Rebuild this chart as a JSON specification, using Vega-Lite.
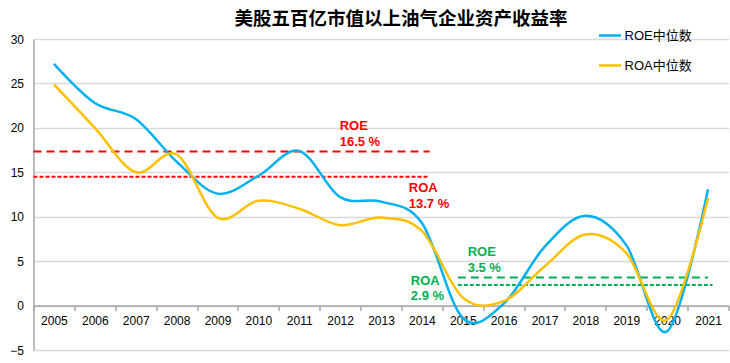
{
  "$schema": "https://vega.github.io/schema/vega-lite/v6.json",
  "width": 695,
  "height": 311,
  "autosize": "none",
  "padding": {"left": 33.5, "top": 39, "right": 1.5, "bottom": 13},
  "background": "white",
  "config": {"view": {"stroke": null}, "font": "Liberation Sans"},
  "title": {
    "text": "美股五百亿市值以上油气企业资产收益率",
    "font": "Noto Sans CJK SC",
    "fontSize": 18.5,
    "fontWeight": "bold",
    "color": "#000000",
    "anchor": "middle",
    "frame": "group",
    "dx": 20,
    "offset": -5
  },
  "resolve": {"scale": {"x": "independent"}, "axis": {"x": "independent"}},
  "datasets": {
    "series": [
      {"year": 2005, "series": "ROE中位数", "value": 27.2},
      {"year": 2006, "series": "ROE中位数", "value": 22.8},
      {"year": 2007, "series": "ROE中位数", "value": 21.0},
      {"year": 2008, "series": "ROE中位数", "value": 16.2},
      {"year": 2009, "series": "ROE中位数", "value": 12.6},
      {"year": 2010, "series": "ROE中位数", "value": 14.6},
      {"year": 2011, "series": "ROE中位数", "value": 17.4},
      {"year": 2012, "series": "ROE中位数", "value": 12.2},
      {"year": 2013, "series": "ROE中位数", "value": 11.7},
      {"year": 2014, "series": "ROE中位数", "value": 9.3},
      {"year": 2015, "series": "ROE中位数", "value": -1.4},
      {"year": 2016, "series": "ROE中位数", "value": 0.2},
      {"year": 2017, "series": "ROE中位数", "value": 6.6},
      {"year": 2018, "series": "ROE中位数", "value": 10.1},
      {"year": 2019, "series": "ROE中位数", "value": 6.8},
      {"year": 2020, "series": "ROE中位数", "value": -2.9},
      {"year": 2021, "series": "ROE中位数", "value": 13.1},
      {"year": 2005, "series": "ROA中位数", "value": 24.9},
      {"year": 2006, "series": "ROA中位数", "value": 20.0},
      {"year": 2007, "series": "ROA中位数", "value": 15.0},
      {"year": 2008, "series": "ROA中位数", "value": 17.0},
      {"year": 2009, "series": "ROA中位数", "value": 9.9},
      {"year": 2010, "series": "ROA中位数", "value": 11.8},
      {"year": 2011, "series": "ROA中位数", "value": 10.9},
      {"year": 2012, "series": "ROA中位数", "value": 9.05},
      {"year": 2013, "series": "ROA中位数", "value": 9.9},
      {"year": 2014, "series": "ROA中位数", "value": 8.4},
      {"year": 2015, "series": "ROA中位数", "value": 0.9},
      {"year": 2016, "series": "ROA中位数", "value": 0.5},
      {"year": 2017, "series": "ROA中位数", "value": 4.4},
      {"year": 2018, "series": "ROA中位数", "value": 8.0},
      {"year": 2019, "series": "ROA中位数", "value": 5.9},
      {"year": 2020, "series": "ROA中位数", "value": -1.6},
      {"year": 2021, "series": "ROA中位数", "value": 12.1}
    ],
    "refs": [
      {"period": "2005-2014", "metric": "ROE", "value": 17.35, "start": 2004.5, "end": 2014.19},
      {"period": "2005-2014", "metric": "ROA", "value": 14.5, "start": 2004.5, "end": 2014.17},
      {"period": "2015-2021", "metric": "ROE", "value": 3.15, "start": 2014.88, "end": 2021.0},
      {"period": "2015-2021", "metric": "ROA", "value": 2.32, "start": 2014.88, "end": 2021.11}
    ],
    "labels": [
      {"period": "2005-2014", "text": "ROE", "x": 2011.99, "y": 20.2},
      {"period": "2005-2014", "text": "16.5 %", "x": 2011.99, "y": 18.4},
      {"period": "2005-2014", "text": "ROA", "x": 2013.68, "y": 13.23},
      {"period": "2005-2014", "text": "13.7 %", "x": 2013.68, "y": 11.43},
      {"period": "2015-2021", "text": "ROE", "x": 2015.12, "y": 6.03},
      {"period": "2015-2021", "text": "3.5 %", "x": 2015.12, "y": 4.23},
      {"period": "2015-2021", "text": "ROA", "x": 2013.73, "y": 2.77},
      {"period": "2015-2021", "text": "2.9 %", "x": 2013.73, "y": 1.08}
    ]
  },
  "layer": [
    {
      "data": {"name": "refs"},
      "transform": [{"filter": "datum.period === '2005-2014'"}],
      "mark": {"type": "rule", "color": "#ff0000", "strokeWidth": 2},
      "encoding": {
        "x": {"field": "start", "type": "quantitative", "scale": {"domain": [2004.5, 2021.5], "nice": false, "zero": false}, "axis": null},
        "x2": {"field": "end"},
        "y": {"field": "value", "type": "quantitative"},
        "strokeDash": {"field": "metric", "type": "nominal", "scale": {"domain": ["ROE", "ROA"], "range": [[8, 5], [4, 2]]}, "legend": null}
      }
    },
    {
      "data": {"name": "refs"},
      "transform": [{"filter": "datum.period === '2015-2021'"}],
      "mark": {"type": "rule", "color": "#00b050", "strokeWidth": 2},
      "encoding": {
        "x": {"field": "start", "type": "quantitative", "scale": {"domain": [2004.5, 2021.5], "nice": false, "zero": false}, "axis": null},
        "x2": {"field": "end"},
        "y": {"field": "value", "type": "quantitative"},
        "strokeDash": {"field": "metric", "type": "nominal", "scale": {"domain": ["ROE", "ROA"], "range": [[8, 5], [4, 2]]}, "legend": null}
      }
    },
    {
      "data": {"name": "series"},
      "mark": {"type": "line", "interpolate": "cardinal", "strokeWidth": 2.5},
      "encoding": {
        "x": {
          "field": "year",
          "type": "ordinal",
          "bandPosition": 0.5,
          "scale": {"type": "band", "paddingInner": 0, "paddingOuter": 0},
          "axis": {
            "title": null,
            "orient": "bottom",
            "offset": -44.4,
            "labelAngle": 0,
            "tickBand": "extent",
            "labelFontSize": 12,
            "labelColor": "#000000",
            "labelPadding": 5,
            "grid": false,
            "domainColor": "#a6a6a6",
            "domainWidth": 1.5,
            "tickColor": "#a6a6a6",
            "tickWidth": 1.5,
            "tickSize": 5
          }
        },
        "y": {
          "field": "value",
          "type": "quantitative",
          "scale": {"domain": [-5, 30], "nice": false},
          "axis": {
            "title": null,
            "values": [-5, 0, 5, 10, 15, 20, 25, 30],
            "labelFontSize": 12,
            "labelColor": "#000000",
            "labelPadding": 10,
            "ticks": false,
            "grid": true,
            "gridColor": "#d9d9d9",
            "gridWidth": 1.5,
            "domainColor": "#a6a6a6",
            "domainWidth": 1.5
          }
        },
        "color": {
          "field": "series",
          "type": "nominal",
          "scale": {"domain": ["ROE中位数", "ROA中位数"], "range": ["#00b0f0", "#ffc000"]},
          "legend": {
            "orient": "none",
            "legendX": 564,
            "legendY": -16,
            "title": null,
            "symbolType": "stroke",
            "symbolSize": 484,
            "symbolStrokeWidth": 2.5,
            "labelFontSize": 13,
            "labelFont": "Liberation Sans, Noto Sans CJK SC",
            "labelColor": "#000000",
            "labelOffset": 2,
            "rowPadding": 10
          }
        }
      }
    },
    {
      "data": {"name": "labels"},
      "transform": [{"filter": "datum.period === '2005-2014'"}],
      "mark": {"type": "text", "align": "left", "baseline": "middle", "font": "Liberation Sans", "fontSize": 13, "fontWeight": "bold", "color": "#ff0000"},
      "encoding": {
        "x": {"field": "x", "type": "quantitative", "scale": {"domain": [2004.5, 2021.5], "nice": false, "zero": false}, "axis": null},
        "y": {"field": "y", "type": "quantitative"},
        "text": {"field": "text"}
      }
    },
    {
      "data": {"name": "labels"},
      "transform": [{"filter": "datum.period === '2015-2021'"}],
      "mark": {"type": "text", "align": "left", "baseline": "middle", "font": "Liberation Sans", "fontSize": 13, "fontWeight": "bold", "color": "#00b050"},
      "encoding": {
        "x": {"field": "x", "type": "quantitative", "scale": {"domain": [2004.5, 2021.5], "nice": false, "zero": false}, "axis": null},
        "y": {"field": "y", "type": "quantitative"},
        "text": {"field": "text"}
      }
    }
  ]
}
